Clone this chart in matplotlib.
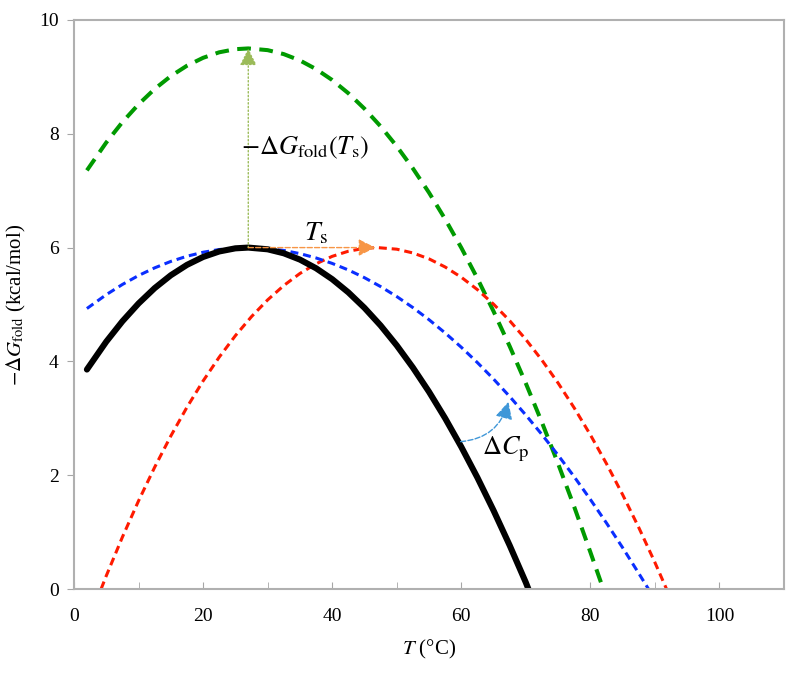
import sys

import matplotlib
matplotlib.use('Agg')
import matplotlib.pyplot as plt

# stability curves, T in degC, -dG_fold in kcal/mol
black_t = [2, 5, 7.5, 10, 12.5, 15, 17.5, 20, 22.5, 25, 27, 30, 32.5, 35,
           37.5, 40, 42.5, 45, 47.5, 50, 52.5, 55, 57.5, 60, 62.5, 65,
           67.5, 70, 70.4]
black_g = [3.857, 4.347, 4.705, 5.018, 5.288, 5.514, 5.696, 5.835, 5.932,
           5.987, 6.0, 5.970, 5.900, 5.789, 5.637, 5.445, 5.213, 4.941,
           4.631, 4.281, 3.892, 3.466, 3.001, 2.498, 1.958, 1.380, 0.766,
           0.115, 0.0]

blue_t = [2, 5, 7.5, 10, 12.5, 15, 17.5, 20, 22.5, 25, 27, 30, 32.5, 35,
          37.5, 40, 42.5, 45, 47.5, 50, 52.5, 55, 57.5, 60, 62.5, 65, 67.5,
          70, 72.5, 75, 77.5, 80, 82.5, 85, 87.5, 89]
blue_g = [4.929, 5.173, 5.352, 5.509, 5.644, 5.757, 5.848, 5.918, 5.966,
          5.993, 6.0, 5.985, 5.950, 5.894, 5.818, 5.722, 5.607, 5.471,
          5.315, 5.140, 4.946, 4.733, 4.500, 4.249, 3.979, 3.690, 3.383,
          3.057, 2.714, 2.352, 1.972, 1.574, 1.159, 0.726, 0.275, 0.0]

green_t = [2, 5, 7.5, 10, 12.5, 15, 17.5, 20, 22.5, 25, 27, 30, 32.5, 35,
           37.5, 40, 42.5, 45, 47.5, 50, 52.5, 55, 57.5, 60, 62.5, 65, 67.5,
           70, 72.5, 75, 77.5, 80, 82]
green_g = [7.357, 7.847, 8.205, 8.518, 8.788, 9.014, 9.196, 9.335, 9.432,
           9.487, 9.5, 9.470, 9.400, 9.289, 9.137, 8.945, 8.713, 8.441,
           8.131, 7.781, 7.392, 6.966, 6.501, 5.998, 5.458, 4.880, 4.266,
           3.615, 2.927, 2.203, 1.444, 0.648, 0.0]

red_t = [4.2, 5, 7.5, 10, 12.5, 15, 17.5, 20, 22.5, 25, 27.5, 30, 32.5, 35,
         37.5, 40, 42.5, 45, 47, 50, 52.5, 55, 57.5, 60, 62.5, 65, 67.5, 70,
         72.5, 75, 77.5, 80, 82.5, 85, 87.5, 90, 91.8]
red_g = [0.0, 0.232, 0.913, 1.549, 2.141, 2.689, 3.194, 3.656, 4.075,
         4.452, 4.787, 5.081, 5.333, 5.545, 5.715, 5.846, 5.936, 5.987, 6.0,
         5.972, 5.906, 5.802, 5.659, 5.479, 5.261, 5.006, 4.715, 4.386,
         4.021, 3.620, 3.182, 2.710, 2.202, 1.658, 1.080, 0.467, 0.0]

t_s = 27
t_s_shift = 47
g_max = 6.0
g_max_high = 9.5

x_ticks = [0, 20, 40, 60, 80, 100]
y_ticks = [0, 2, 4, 6, 8, 10]


def main():
    plt.rcParams['font.family'] = ['Liberation Serif', 'DejaVu Serif']
    plt.rcParams['mathtext.fontset'] = 'stix'

    fig = plt.figure(figsize=(8, 6.75), dpi=100)
    ax = fig.add_axes([0.0925, 0.1274, 0.8875, 0.843])

    ax.plot(green_t, green_g, color='#009a00', lw=2.9, dashes=(3.4, 2.1),
            dash_capstyle='butt', dash_joinstyle='round')
    ax.plot(red_t, red_g, color='#ff1a00', lw=2.2, dashes=(2.6, 1.6),
            dash_joinstyle='round')
    ax.plot(blue_t, blue_g, color='#0a2eff', lw=2.2, dashes=(2.6, 1.6),
            dash_joinstyle='round')
    ax.plot(black_t, black_g, color='black', lw=4.4, solid_capstyle='round',
            solid_joinstyle='round')

    # annotation arrows
    ax.annotate('', xy=(t_s, g_max_high), xytext=(t_s, g_max),
                arrowprops=dict(arrowstyle='-|>', color='#9bbb59', lw=1.0,
                                linestyle=':', mutation_scale=26,
                                shrinkA=0, shrinkB=0))
    ax.annotate('', xy=(t_s_shift - 0.3, g_max), xytext=(t_s, g_max),
                arrowprops=dict(arrowstyle='-|>', color='#f79646', lw=1.0,
                                linestyle='--', mutation_scale=26,
                                shrinkA=0, shrinkB=0))
    ax.annotate('', xy=(67.3, 3.29), xytext=(59.9, 2.59),
                arrowprops=dict(arrowstyle='-|>', color='#3f97d8', lw=1.0,
                                linestyle='--', mutation_scale=26,
                                shrinkA=0, shrinkB=0,
                                connectionstyle='arc3,rad=0.35'))

    ax.text(25.9, 7.63, r'$-\Delta G_{\rm fold}(T_{\rm s})$', fontsize=19,
            ha='left', va='baseline')
    ax.text(35.6, 6.13, r'$T_{\rm s}$', fontsize=20, ha='left',
            va='baseline')
    ax.text(63.2, 2.37, r'$\Delta C_{\rm p}$', fontsize=19, ha='left',
            va='baseline')

    ax.set_xlim(0, 110)
    ax.set_ylim(0, 10)
    ax.set_xticks(x_ticks)
    ax.set_xticks([10, 30, 50, 70, 90, 110], minor=True)
    ax.set_yticks(y_ticks)
    ax.tick_params(axis='x', which='both', direction='in', length=5,
                   color='#a6a6a6', labelsize=14, pad=14)
    ax.tick_params(axis='y', direction='out', length=5, color='#a6a6a6',
                   labelsize=14, pad=6)
    for sp in ax.spines.values():
        sp.set_color('#b0b0b0')
        sp.set_linewidth(1.5)

    ax.set_xlabel(r'$T$ (°C)', fontsize=15, labelpad=9)
    ax.set_ylabel(r'$-\Delta G_{\rm fold}$ (kcal/mol)', fontsize=15,
                  labelpad=8)

    fig.savefig('out.png', dpi=100)
    plt.close(fig)
    return 0


if __name__ == '__main__':
    sys.exit(main())
